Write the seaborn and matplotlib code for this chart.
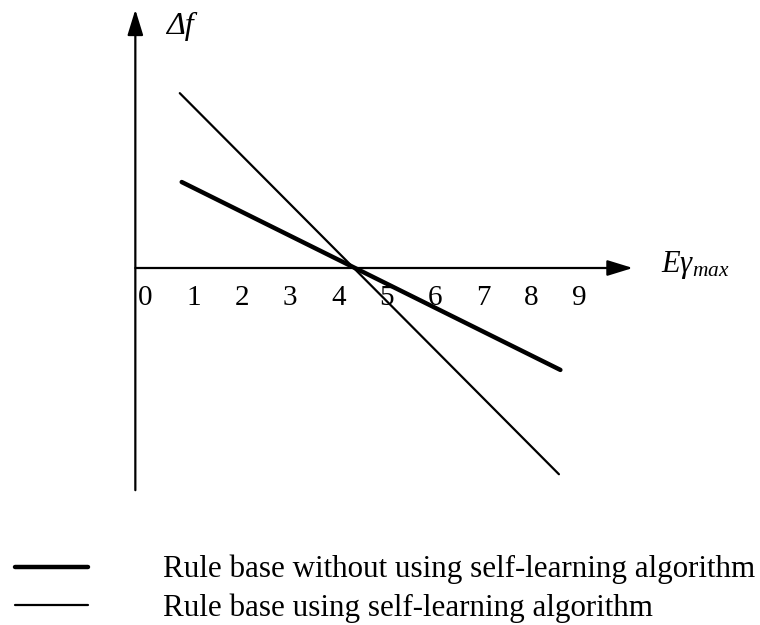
import matplotlib
matplotlib.use("Agg")
import matplotlib.pyplot as plt
import seaborn as sns
import pandas as pd

# Frequency deviation vs. maximum error for two rule bases (schematic)
series = ["Rule base without using self-learning algorithm",
          "Rule base using self-learning algorithm"]
x_without = [0.76, 8.6]
y_without = [1.78, -2.11]
x_with = [0.72, 8.57]
y_with = [3.62, -4.27]
tick_values = list(range(10))
tick_labels = [str(v) for v in tick_values]

df = pd.DataFrame({
    "x": x_without + x_with,
    "y": y_without + y_with,
    "rule": [series[0]] * len(x_without) + [series[1]] * len(x_with),
})

sns.set_theme(style="white")
plt.rcParams["font.family"] = ["Liberation Serif", "DejaVu Serif"]
plt.rcParams["mathtext.fontset"] = "custom"
plt.rcParams["mathtext.rm"] = "Liberation Serif"
plt.rcParams["mathtext.it"] = "Liberation Serif:italic"
plt.rcParams["text.color"] = "black"

W, H = 760, 625
fig = plt.figure(figsize=(W / 100, H / 100), dpi=100)
ax = fig.add_axes([0, 0, 1, 1])

# pixel layout of the coordinate frame
px_unit = 48.3
x0_px, y0_px = 145, 268
ax.set_xlim(-x0_px / px_unit, (W - x0_px) / px_unit)
ax.set_ylim(-(H - y0_px) / px_unit, y0_px / px_unit)

sns.lineplot(data=df, x="x", y="y", hue="rule", size="rule",
             sizes={series[0]: 3.2, series[1]: 1.6},
             palette={series[0]: "black", series[1]: "black"},
             ax=ax, legend=True)

for s in ax.spines.values():
    s.set_visible(False)
ax.spines["bottom"].set_position(("data", 0))
ax.set_xticks(tick_values, tick_labels)
ax.set_yticks([])
ax.tick_params(axis="x", length=0, pad=12, labelsize=21, colors="black")
ax.set_xlabel("")
ax.set_ylabel("")

# axes with arrow heads
arrow = dict(arrowstyle="-|>,head_length=1.3,head_width=0.4", color="black",
             lw=1.6, mutation_scale=12, shrinkA=0, shrinkB=0)
y_axis_x = -0.2
ax.annotate("", xy=(y_axis_x, 5.35), xytext=(y_axis_x, -4.6), arrowprops=arrow)
ax.annotate("", xy=(10.1, 0), xytext=(y_axis_x, 0), arrowprops=arrow)

ax.text(0.72, 5.0, "Δf", style="italic", fontsize=23, ha="center", va="center",
        color="black")
ax.text(10.68, 0.06, r"$E\gamma_{max}$", fontsize=22, ha="left", va="center",
        color="black")

leg = ax.legend(loc="upper left", bbox_to_anchor=(15 / W, 1 - 555 / H),
                bbox_transform=fig.transFigure, frameon=False,
                fontsize=22.3, handlelength=2.37, handletextpad=2.42,
                labelspacing=0.28, borderaxespad=0, borderpad=0)
for t in leg.get_texts():
    t.set_color("black")

fig.savefig("out.png", dpi=100)
